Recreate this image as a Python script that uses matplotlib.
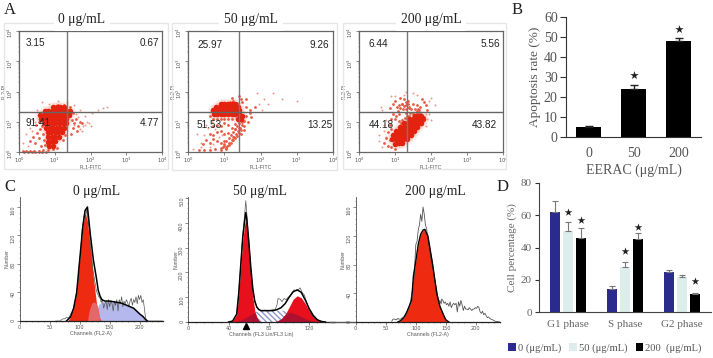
import matplotlib
matplotlib.use("Agg")
import numpy as np
import matplotlib.pyplot as plt
from matplotlib.patches import Rectangle
from matplotlib.ticker import MultipleLocator

W, H = 713, 358
SERIF = 'Liberation Serif'
SANS = 'Liberation Sans'
RED = '#e3230f'
MID = '#e65a44'
PALE = '#ee9a8a'

# --- Panel A, values in log decades
A_TITLES = ['0 μg/mL', '50 μg/mL', '200 μg/mL']
A_VALUES = [['3.15', '0.67', '91.41', '4.77'],
            ['25.97', '9.26', '51.53', '13.25'],
            ['6.44', '5.56', '44.18', '43.82']]
A_GATE_X = [1.34, 1.41, 1.33]
A_GATE_Y = [1.32, 1.32, 1.32]

a0_core_x = [.85, .95, .82, .92, 1.02, .82, .92, 1.02, 1.12, .8, .9, 1.0, 1.1, 1.2, .76, .86, .96, 1.06, 1.16, 1.26,
             .72, .82, .92, 1.02, 1.12, 1.22, 1.32, .62, .72, .82, .92, 1.02, 1.12, 1.22, 1.32, .6, .7, .8, .9, 1.0,
             1.1, 1.2, 1.3, 1.4, .72, .82, .92, 1.02, 1.12, 1.22, 1.32, 1.42, .95, 1.05, 1.15, 1.25]
a0_core_y = [.2, .2, .34, .35, .35, .48, .5, .5, .5, .65, .65, .65, .65, .65, .8, .8, .8, .8, .8, .8,
             .95, .95, .95, .95, .95, .95, .95, 1.08, 1.08, 1.08, 1.08, 1.08, 1.08, 1.08, 1.08, 1.22, 1.22, 1.22, 1.22, 1.22,
             1.22, 1.22, 1.22, 1.22, 1.36, 1.36, 1.36, 1.36, 1.36, 1.36, 1.36, 1.36, 1.5, 1.5, 1.5, 1.5]
a0_mid_x = [.3, .38, .45, .5, .55, .6, .62, .66, .7, .55, .6, .48, .7, .74, .78, .65, .72, 1.42, 1.48, 1.5, 1.55, 1.6,
            1.45, 1.65, 1.7, 1.75, 1.4, 1.42, 1.25, 1.3, 1.1, 1.05, .95, 1.3, 1.22, 1.5, 1.62, .1, .2, .3, .42, .55, .68, .8,
            .15, .25, .35, .45, .55, .65, .75]
a0_mid_y = [.38, .5, .3, .62, .45, .75, .2, .6, .4, 1.0, 1.2, .9, 1.3, .22, .55, .85, 1.4, 1.2, 1.05, .8, .95, 1.1, .6,
            .85, 1.0, .95, 1.4, 1.5, 1.55, .55, 1.55, .12, .1, 1.45, .4, 1.3, .7, .02, .02, .02, .03, .03, .05, .06,
            .01, .01, .01, .01, .01, .01, .01]
a0_sparse_x = [.1, .25, .35, .5, .65, 1.8, 1.9, 2.05, 2.2, 2.35, 2.45, 1.85, 1.7, 1.55, .85, .4, .2, 1.75, 1.85, 1.95, 2.0, 1.65,
               1.55, 1.7, 1.6, 1.35, 1.1, .3, .45, .6]
a0_sparse_y = [.3, .2, .7, 1.4, 1.65, .85, 1.0, 1.3, 1.4, 1.45, 1.5, 1.2, 1.4, 1.55, 1.6, 1.05, .6, .7, .9, .95, .85, 1.15,
               .9, .75, 1.25, 1.65, 1.7, .8, 1.0, 1.1]

a1_core_x = [.72, .8, .9, 1.0, 1.1, 1.2, 1.3, 1.4, .7, .8, .9, 1.0, 1.1, 1.2, 1.3, 1.42, .78, .88, .98, 1.08, 1.18, 1.28, 1.38,
             .9, 1.0, 1.1, 1.2, 1.3, 1.45, 1.38, 1.5]
a1_core_y = [1.26, 1.26, 1.26, 1.26, 1.26, 1.26, 1.26, 1.26, 1.38, 1.38, 1.38, 1.38, 1.38, 1.38, 1.38, 1.38, 1.5, 1.5, 1.5, 1.5, 1.5, 1.5, 1.5,
             1.6, 1.6, 1.6, 1.6, 1.6, 1.1, 1.1, 1.2]
a1_mid_x = [.6, .65, .7, .8, .9, 1.0, 1.1, 1.2, 1.3, 1.4, 1.5, 1.6, 1.7, 1.65, 1.75, 1.55, .7, .8, .9, 1.0, 1.1, 1.2,
            1.3, 1.45, 1.55, .6, .7, .8, .9, 1.0, 1.1, 1.25, .4, .5, .6, .7, .8, .9, 1.0, .3, .45, .6, .75, .9,
            1.35, 1.5, 1.6, 1.25, 1.15, 1.05, 1.45, 1.7, 1.85, 1.6, 1.4, 1.2,
            1.42, 1.36, 1.3, 1.24, 1.18, 1.12, 1.06, 1.0, .96, 1.48, 1.44, 1.38, 1.32, 1.26, 1.2, 1.14, 1.08, 1.5, 1.55, 1.46,
            1.42, 1.36, 1.3, 1.24, 1.18, 1.12, 1.06, .92, .98, 1.04]
a1_mid_y = [1.2, 1.4, 1.1, 1.1, 1.1, 1.1, 1.1, 1.1, .92, .8, 1.05, 1.2, 1.3, 1.0, 1.15, .85, .85, .9, .85, .95, .9, .8,
            .75, .6, .72, .6, .55, .65, .7, .6, .62, .5, .25, .4, .3, .42, .35, .3, .35, .05, .08, .07, .1, .08,
            1.62, 1.65, 1.5, 1.68, 1.65, 1.62, 1.75, 1.4, 1.5, 1.75, 1.85, 1.8,
            .95, .85, .75, .65, .55, .45, .35, .25, .15, .9, .8, .7, .6, .5, .4, .3, .2, 1.0, 1.02, .72,
            .62, .52, .45, .4, .3, .22, .12, .12, .2, .1]
a1_sparse_x = [2.1, 2.35, 2.6, 3.0, 1.95, 2.05, 2.2, 1.9, .25, .35, .5, .15, .55, .65, .75, .85, .95, .45, .35, .6, .7]
a1_sparse_y = [1.75, 1.95, 1.75, 1.7, 1.6, 1.4, 1.6, 1.95, .6, .15, .9, .1, .8, 1.0, .75, .5, .55, .55, .3, .15, .25]

a2_core_x = [1.0, 1.1, 1.2, .92, 1.02, 1.12, 1.22, 1.32, .95, 1.05, 1.15, 1.25, 1.35, 1.45, 1.02, 1.12, 1.22, 1.32, 1.42, 1.52,
             1.15, 1.25, 1.35, 1.45, 1.55, 1.62, 1.25, 1.35, 1.45, 1.55, 1.65, 1.72, 1.4, 1.5, 1.6, 1.7, 1.78, 1.55, 1.65, 1.72]
a2_core_y = [.28, .3, .3, .42, .42, .42, .42, .42, .55, .55, .55, .55, .55, .55, .68, .68, .68, .68, .68, .68,
             .82, .82, .82, .82, .82, .82, .95, .95, .95, .95, .95, .95, 1.08, 1.08, 1.08, 1.08, 1.08, 1.2, 1.2, 1.2]
a2_mid_x = [.8, .9, 1.0, .85, .95, .9, .8, .75, .7, .85, 1.0, 1.1, 1.2, 1.3, 1.4, 1.5, 1.6, 1.7, 1.8, 1.1, 1.2, 1.3, 1.4,
            1.5, 1.6, 1.7, 1.8, .85, .95, 1.05, 1.0, .95, .9, 1.9, 1.85, 1.75, 1.25, 1.35, 1.15,
            1.2, 1.25, 1.3, 1.35, 1.15, 1.22, 1.3, 1.38, 1.45, 1.55, 1.65, 1.08, 1.02, 1.12, 1.18, 1.28, 1.34, 1.42, 1.5, 1.6, 1.68]
a2_mid_y = [.2, .15, .1, .4, .55, .75, .65, .45, .3, .9, 1.1, 1.25, 1.05, 1.3, 1.2, 1.3, 1.28, 1.3, 1.15, 1.55, 1.6, 1.55,
            1.5, 1.6, 1.55, 1.5, 1.65, 1.45, 1.6, 1.5, 1.7, 1.25, 1.1, 1.4, 1.55, 1.75, 1.75, 1.7, 1.8,
            1.6, 1.52, 1.65, 1.58, 1.45, 1.42, 1.42, 1.45, 1.42, 1.42, 1.42, 1.35, 1.2, 1.02, .95, 1.12, 1.2, 1.28, 1.22, 1.36, 1.38]
a2_sparse_x = [.55, .65, .7, .75, 1.95, 2.0, 2.1, 1.3, 1.25, 1.6, 2.0, .55, .6, 1.5, 1.75, 1.85, .7, .75, .8, .65, 1.85, 1.95, 1.9, .9, 1.0]
a2_sparse_y = [.35, .15, .7, 1.05, 1.25, 1.05, 1.55, 2.0, 1.9, 1.9, 1.8, .55, 1.5, 1.95, .9, .85, .9, .5, .2, 1.4, 1.25, 1.7, 1.1, 1.85, 1.85]

A_CORE = [(a0_core_x, a0_core_y), (a1_core_x, a1_core_y), (a2_core_x, a2_core_y)]
A_MID = [(a0_mid_x, a0_mid_y), (a1_mid_x, a1_mid_y), (a2_mid_x, a2_mid_y)]
A_SPARSE = [(a0_sparse_x, a0_sparse_y), (a1_sparse_x, a1_sparse_y), (a2_sparse_x, a2_sparse_y)]

# --- Panel B
b_labels = ['0', '50', '200']
b_values = [5, 24, 48]
b_errors = [0.5, 2, 1.5]
b_stars = [None, 31, 54]

# --- Panel C
c1_model_ch = [80, 85, 90, 95, 100, 105, 109, 113, 118, 123, 128, 133, 136]
c1_g1 = [0, 6, 18, 40, 85, 130, 152, 140, 100, 60, 25, 5, 0]
c1_pink_ch = [113, 116, 120, 124, 128, 131, 134]
c1_pink = [0, 15, 25, 27, 24, 18, 0]
c1_blue_ch = [128, 131, 135, 150, 170, 190, 200, 206, 210, 213]
c1_blue = [0, 22, 26, 28, 25, 18, 10, 6, 2, 0]
c1_line_ch = [78, 85, 90, 95, 100, 105, 109, 113, 118, 123, 128, 131, 134, 137, 142, 150, 170, 190, 200, 206, 210, 213]
c1_line = [0, 6, 18, 40, 85, 130, 155, 160, 120, 85, 60, 43, 35, 30, 28, 28, 25, 18, 10, 6, 2, 0]
c1_raw_ch = [60, 68, 70, 72, 75, 78, 80, 83, 85, 88, 90, 92, 95, 97, 100, 102, 104, 106, 108, 110, 112, 114, 116, 118, 120,
             122, 124, 126, 128, 130, 132, 134, 136, 138, 140, 142, 144, 146, 148, 150, 152, 154, 156, 158, 160, 162,
             164, 166, 168, 170, 172, 174, 176, 178, 180, 182, 184, 186, 188, 190, 192, 194, 196, 198, 200, 202, 204,
             206, 208, 209, 210, 212, 240]
c1_raw = [0, 0, 2, 3, 3, 5, 4, 6, 10, 14, 18, 26, 40, 52, 85, 100, 128, 140, 150, 145, 158, 140, 128, 105, 92,
          72, 62, 52, 42, 38, 34, 32, 26, 30, 18, 24, 28, 16, 30, 20, 28, 24, 14, 28, 22, 30,
          14, 30, 24, 34, 20, 28, 24, 30, 26, 20, 28, 32, 22, 30, 26, 34, 24, 36, 30, 36, 26,
          30, 18, 10, 4, 0, 0]

c2_ch = [40, 44, 48, 50, 52, 54, 56, 57, 58, 60, 62, 64, 66, 68, 70, 72, 76, 80, 84, 88, 92, 96, 100, 104, 108, 112, 116,
         120, 124, 128, 132, 136]
c2_g1 = [0, 4, 30, 110, 220, 330, 395, 412, 395, 300, 190, 100, 45, 18, 5, 0, 0, 0, 0, 0, 0, 0, 0, 0, 0, 0, 0,
         0, 0, 0, 0, 0]
c2_g2 = [0, 0, 0, 0, 0, 0, 0, 0, 0, 0, 0, 0, 0, 0, 0, 0, 0, 0, 0, 4, 12, 30, 60, 92, 106, 98, 75,
         45, 22, 8, 2, 0]
c2_s = [0, 0, 2, 5, 8, 12, 16, 18, 20, 25, 30, 34, 38, 42, 45, 46, 46, 46, 46, 46, 46, 44, 40, 36, 30, 22, 14,
        8, 4, 1, 0, 0]
c2_line = [0, 4, 32, 115, 228, 342, 411, 442, 415, 325, 220, 134, 83, 60, 50, 46, 46, 46, 46, 50, 58, 74, 100, 122, 130,
           120, 89, 53, 26, 9, 2, 0]
c2_raw_ch = [48, 50, 52, 54, 56, 57, 58, 60, 62, 64, 66, 68, 70, 72, 74, 76, 78, 80, 82, 84, 86, 88, 89, 91, 93, 95, 97, 99,
             101, 103, 105, 107, 109, 111, 113, 115, 117, 119, 121, 125, 130, 136]
c2_raw = [30, 115, 230, 350, 440, 490, 440, 330, 215, 130, 85, 60, 50, 46, 44, 48, 46, 44, 48, 50, 48, 70, 95, 92, 82, 95,
          90, 100, 105, 120, 130, 125, 130, 138, 118, 110, 85, 60, 40, 15, 5, 0]

c3_ch = [70, 75, 80, 85, 90, 93, 96, 100, 104, 108, 112, 115, 120, 124, 128, 135, 140, 146, 150, 155]
c3_g1 = [0, 2, 6, 14, 24, 30, 64, 85, 108, 122, 128, 129, 120, 100, 80, 39, 22, 10, 3, 0]
c3_raw_ch = [60, 62, 65, 68, 70, 72, 75, 78, 82, 86, 90, 94, 97, 100, 102, 104, 106, 108, 110, 112, 114, 116, 118, 120,
             122, 124, 126, 128, 130, 132, 134, 136, 138, 140, 142, 143, 145, 147, 149, 151, 153, 155, 157, 159, 161,
             163, 165, 167, 169, 171, 173, 175, 177, 179, 181, 183, 185, 187, 189, 191, 193, 195, 197, 199, 201, 203,
             205, 207, 209, 211, 213, 215, 217, 219, 221, 223, 225, 228, 232, 240]
c3_raw = [1, 4, 4, 3, 5, 4, 4, 6, 8, 14, 24, 42, 60, 108, 112, 128, 135, 150, 140, 160, 150, 135, 130, 112,
          105, 90, 84, 76, 65, 56, 48, 38, 28, 30, 25, 32, 30, 26, 28, 24, 26, 22, 28, 20, 24,
          26, 24, 26, 14, 28, 22, 30, 24, 16, 22, 18, 18, 17, 20, 18, 16, 18, 18, 20, 19, 22,
          20, 14, 12, 15, 10, 12, 9, 6, 7, 5, 4, 3, 1, 0]

# --- Panel D
d_groups = ['G1 phase', 'S phase', 'G2 phase']
d_series = ['0 (μg/mL)', '50 (μg/mL)', '200  (μg/mL)']
d_values = [[62, 14, 25], [50, 28, 22], [46, 45, 11]]
d_errors = [[7, 2, 1], [6, 3, 1], [6, 4, 1]]
d_stars_x = [0, 0, 1, 1, 2]
d_stars_off = [0, 1, 0, 1, 1]
d_stars_y = [62, 57, 38, 53, 19]
d_colors = ['#2b2b8e', '#dcedeb', '#000000']


def px_axes(fig, x0, y0, x1, y1):
    # pixel box with y measured from the top of the picture
    return fig.add_axes([x0 / W, 1 - y1 / H, (x1 - x0) / W, (y1 - y0) / H])


fig = plt.figure(figsize=(W / 100, H / 100), dpi=100)
fig.patch.set_facecolor('white')


def letter(s, x, y):
    fig.text(x / W, 1 - y / H, s, family=SERIF, fontsize=12, color='#222222', ha='center', va='center')


letter('A', 10, 10)
letter('B', 517, 10)
letter('C', 10, 187)
letter('D', 503, 187)

# flow cytometry panels
a_boxes = [(19, 31, 162, 152), (188, 31, 333, 152), (359, 31, 503, 152)]
a_frames = [(4, 23, 168, 169), (172, 23, 337, 170), (343, 23, 506, 169)]
a_title_x = [82, 251, 431]
a_text_x = [(.047, .977), (.062, .97), (.067, .977)]
a_text_y = [(.9, .24), (.885, .224), (.89, .226)]
for i in range(3):
    fx0, fy0, fx1, fy1 = a_frames[i]
    fig.add_artist(Rectangle((fx0 / W, 1 - fy1 / H), (fx1 - fx0) / W, (fy1 - fy0) / H, transform=fig.transFigure,
                             fill=False, edgecolor='#e6e6e6', linewidth=1))
    fig.text(a_title_x[i] / W, 1 - 20 / H, A_TITLES[i], family=SERIF, fontsize=9.8, color='#222222', ha='center',
             va='center', bbox=dict(facecolor='white', edgecolor='none', pad=3.5), zorder=5)
    ax = px_axes(fig, *a_boxes[i])
    ax.set_xscale('log')
    ax.set_yscale('log')
    ax.set_xlim(1, 1e4)
    ax.set_ylim(1, 1e4)
    sx, sy = A_SPARSE[i]
    mx, my = A_MID[i]
    cx, cy = A_CORE[i]
    ax.scatter(10 ** np.array(sx), 10 ** np.array(sy), s=2, color=PALE, linewidths=0, clip_on=False)
    ax.scatter(10 ** np.array(cx), 10 ** np.array(cy), s=60, color=PALE, alpha=.18, linewidths=0, clip_on=False)
    ax.scatter(10 ** np.array(mx), 10 ** np.array(my), s=4, color=MID, linewidths=0, clip_on=False)
    ax.scatter(10 ** np.array(cx), 10 ** np.array(cy), s=16, color=RED, linewidths=0, clip_on=False)
    ax.axvline(10 ** A_GATE_X[i], color='#777777', lw=1)
    ax.axhline(10 ** A_GATE_Y[i], color='#666666', lw=1)
    tx0, tx1 = a_text_x[i]
    ty0, ty1 = a_text_y[i]
    vals = A_VALUES[i]
    kw = dict(transform=ax.transAxes, family=SANS, fontsize=7.2, color='#222222', va='center')
    ax.text(tx0, ty0, vals[0], ha='left', **kw)
    ax.text(tx1, ty0, vals[1], ha='right', **kw)
    ax.text(tx0, ty1, vals[2], ha='left', **kw)
    ax.text(1.0 if i == 1 else (.96 if i == 2 else tx1), ty1, vals[3], ha='right', **kw)
    for sp in ax.spines.values():
        sp.set_color('#666666')
        sp.set_linewidth(0.9)
    ax.tick_params(which='major', length=2, width=0.5, labelsize=3.8, colors='#555555', pad=1)
    ax.tick_params(which='minor', length=1, width=0.3, colors='#777777')
    ax.tick_params(axis='y', labelrotation=90)
    ax.set_xlabel('FL1-FITC', fontsize=3.8, family=SANS, color='#555555', labelpad=0)
    ax.set_ylabel('FL2-PI', fontsize=3.8, family=SANS, color='#555555', labelpad=-1)

# panel B
ax = px_axes(fig, 566, 17, 701, 137)
xpos = np.arange(len(b_labels))
ax.bar(xpos, b_values, width=.556, color='black', yerr=[[0] * 3, b_errors],
       error_kw=dict(ecolor='#222222', elinewidth=1, capsize=3, capthick=1))
for p, s in zip(xpos, b_stars):
    if s is not None:
        ax.scatter(p, s, marker='*', s=40, color='#222222', linewidths=0)
ax.set_xlim(-.5, 2.5)
ax.set_ylim(0, 60)
ax.set_xticks(xpos, b_labels)
ax.set_yticks(range(0, 61, 10))
ax.tick_params(axis='x', length=0, pad=7)
ax.tick_params(axis='y', length=4, width=0.8, color='#333333', pad=2)
for t in ax.get_xticklabels() + ax.get_yticklabels():
    t.set_family(SERIF)
    t.set_fontsize(10)
    t.set_color('#555555')
ax.spines['top'].set_visible(False)
ax.spines['right'].set_visible(False)
ax.spines['left'].set_color('#333333')
ax.spines['bottom'].set_color('#333333')
ax.set_xlabel('EERAC (μg/mL)', family=SERIF, fontsize=10, color='#555555', labelpad=3)
ax.set_ylabel('Apoptosis rate (%)', family=SERIF, fontsize=9.5, color='#555555', labelpad=2)

# panel C
c_boxes = [(19.7, 197, 163, 321), (188.3, 197, 335, 322), (355.7, 197, 500, 322)]
c_xlim = [(0, 239), (0, 145.5), (0, 240)]
c_ylim = [(0, 174), (0, 505), (0, 174)]
c_titles_x = [97, 260, 435]
c_xlabel = ['Channels (FL2-A)', 'Channels (FL3 Lin/FL3 Lin)', 'Channels (FL2-A)']
c_xmajor = [50, 40, 50]
c_xminor = [10, 8, 10]
c_ymajor = [40, 100, 40]
c_yminor = [8, 20, 8]
for i in range(3):
    ax = px_axes(fig, *c_boxes[i])
    if i == 0:
        ax.fill_between(c1_blue_ch, c1_blue, color='#b4b8ec', linewidth=0)
        ax.fill_between(c1_model_ch, c1_g1, color='#ee2a10', linewidth=0)
        ax.fill_between(c1_pink_ch, c1_pink, color='#e4686a', linewidth=0)
        ax.plot(c1_raw_ch, c1_raw, color='#555555', lw=0.5)
        ax.plot(c1_line_ch, c1_line, color='black', lw=1.1)
    elif i == 1:
        ax.fill_between(c2_ch, c2_s, facecolor='white', edgecolor='#8f96cc', hatch='\\\\\\\\\\\\', linewidth=0)
        ax.fill_between(c2_ch, c2_g1, color='#e8101c', linewidth=0)
        ax.fill_between(c2_ch, c2_g2, color='#e8101c', linewidth=0)
        ax.fill_between(c2_ch, np.minimum(c2_s, np.maximum(c2_g1, c2_g2)), color='#b01030', linewidth=0)
        ax.plot(c2_raw_ch, c2_raw, color='#555555', lw=0.5)
        ax.plot(c2_ch, c2_line, color='black', lw=1.1)
        ax.plot([57], [-0.035], marker='^', ms=4, color='black', clip_on=False, zorder=5,
                transform=ax.get_xaxis_transform())
    else:
        ax.fill_between(c3_ch, c3_g1, color='#ee2a10', linewidth=0)
        ax.plot(c3_raw_ch, c3_raw, color='#555555', lw=0.6)
        ax.plot(c3_ch, c3_g1, color='black', lw=1.0)
        ax.plot([-42, 0], [0, 0], color='#555555', lw=1, clip_on=False)
    ax.set_xlim(*c_xlim[i])
    ax.set_ylim(*c_ylim[i])
    ax.xaxis.set_major_locator(MultipleLocator(c_xmajor[i]))
    ax.xaxis.set_minor_locator(MultipleLocator(c_xminor[i]))
    ax.yaxis.set_major_locator(MultipleLocator(c_ymajor[i]))
    ax.yaxis.set_minor_locator(MultipleLocator(c_yminor[i]))
    ax.tick_params(which='major', length=2, width=0.5, labelsize=3.6, colors='#555555', pad=1)
    ax.tick_params(which='minor', length=1, width=0.4, colors='#555555')
    ax.tick_params(axis='y', labelrotation=90)
    for s in ['top', 'right']:
        ax.spines[s].set_visible(False)
    ax.spines['left'].set_linewidth(0.7)
    ax.spines['left'].set_color('#666666')
    ax.spines['bottom'].set_linewidth(0.9)
    ax.spines['bottom'].set_color('#222222')
    ax.set_xlabel(c_xlabel[i], fontsize=3.8, family=SANS, color='#555555', labelpad=0.5)
    ax.set_ylabel('Number', fontsize=3.8, family=SANS, color='#555555', labelpad=0.5)
    fig.text(c_titles_x[i] / W, 1 - 192 / H, A_TITLES[i], family=SERIF, fontsize=9.8, color='#222222', ha='center',
             va='center')

# panel D
ax = px_axes(fig, 539, 183, 711, 312)
gx = np.arange(len(d_groups))
for k in range(3):
    ax.bar(gx + (k - 1) * .228, d_values[k], width=.175, color=d_colors[k], label=d_series[k],
           yerr=[[0] * 3, d_errors[k]], error_kw=dict(ecolor='#777777', elinewidth=0.8, capsize=2, capthick=0.8))
for g, off, s in zip(d_stars_x, d_stars_off, d_stars_y):
    ax.scatter(g + off * .228, s, marker='*', s=34, color='#222222', linewidths=0, zorder=5)
ax.set_xlim(-.509, 2.509)
ax.set_ylim(0, 80)
ax.set_xticks(gx, d_groups)
ax.set_yticks(range(0, 81, 20))
ax.tick_params(axis='x', length=0, pad=6)
ax.tick_params(axis='y', length=3, width=0.8, color='#333333', pad=2)
for t in ax.get_xticklabels() + ax.get_yticklabels():
    t.set_family(SERIF)
    t.set_fontsize(8)
    t.set_color('#666666')
ax.spines['top'].set_visible(False)
ax.spines['right'].set_visible(False)
ax.spines['left'].set_color('#444444')
ax.spines['bottom'].set_color('#444444')
ax.set_ylabel('Cell percentage (%)', family=SERIF, fontsize=8, color='#666666', labelpad=3)
leg = ax.legend(loc='center', bbox_to_anchor=(.384, -.28), ncol=3, frameon=False, prop=dict(family=SERIF, size=7.6),
                handlelength=.7, handleheight=.7, handletextpad=.2, columnspacing=.8, borderpad=0, borderaxespad=0)
for t in leg.get_texts():
    t.set_color('#555555')

fig.savefig('out.png', dpi=100)
